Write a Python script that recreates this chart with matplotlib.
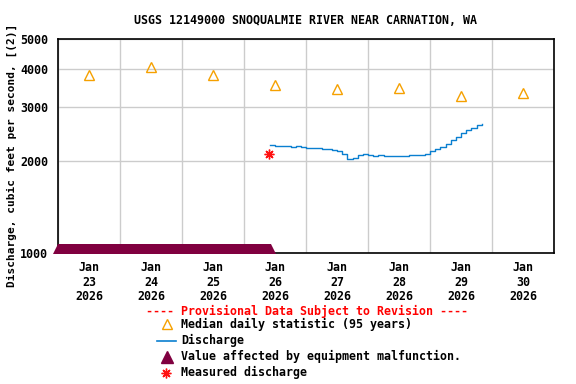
import datetime as dt
import matplotlib
matplotlib.use('Agg')
import matplotlib.pyplot as plt
import matplotlib.dates as mdates
import matplotlib.transforms as mtransforms
from matplotlib.lines import Line2D

plt.rcParams['font.family'] = 'DejaVu Sans Mono'
plt.rcParams['font.weight'] = 'bold'
plt.rcParams['font.size'] = 8.4

# %% data
title = 'USGS 12149000 SNOQUALMIE RIVER NEAR CARNATION, WA'
ylabel = 'Discharge, cubic feet per second, [(2)]'

median_days = [23, 24, 25, 26, 27, 28, 29, 30]
median_cfs = [3820, 4060, 3820, 3540, 3440, 3460, 3260, 3340]

# discharge, every 2 h starting Jan 26 10:00
q_start = dt.datetime(2026, 1, 26, 10, 0)
q_cfs = [2250, 2240, 2230, 2240, 2225, 2235, 2220, 2210, 2200, 2195,
         2190, 2180, 2170, 2150, 2110, 2020, 2040, 2090, 2100, 2085,
         2080, 2085, 2075, 2080, 2080, 2075, 2080, 2085, 2090, 2095,
         2100, 2150, 2180, 2220, 2270, 2340, 2400, 2470, 2520, 2570,
         2610, 2640]

malf_start = dt.datetime(2026, 1, 23, 0, 0)
malf_end = dt.datetime(2026, 1, 26, 10, 30)

meas_time = dt.datetime(2026, 1, 26, 9, 45)
meas_cfs = 2100

# %%
q_times = [q_start + dt.timedelta(hours=2 * i) for i in range(len(q_cfs))]
median_times = [dt.datetime(2026, 1, d, 12) for d in median_days]

fig = plt.figure(figsize=(5.76, 3.84), dpi=100)
W, H = 576, 384
ax = fig.add_axes([58 / W, 1 - 252.7 / H, 496 / W, 213.4 / H])

ax.set_yscale('log')
ax.set_ylim(1000, 5000)
ax.set_xlim(dt.datetime(2026, 1, 23), dt.datetime(2026, 1, 31))

ax.yaxis.set_major_locator(matplotlib.ticker.FixedLocator([1000, 2000, 3000, 4000, 5000]))
ax.yaxis.set_major_formatter(matplotlib.ticker.FormatStrFormatter('%d'))
ax.yaxis.set_minor_locator(matplotlib.ticker.NullLocator())
ax.xaxis.set_major_locator(mdates.DayLocator())
ax.xaxis.set_major_formatter(matplotlib.ticker.NullFormatter())
ax.xaxis.set_minor_locator(mdates.HourLocator(byhour=12))
ax.xaxis.set_minor_formatter(mdates.DateFormatter('%b\n%d\n%Y'))
ax.tick_params(which='both', length=0)
ax.tick_params(axis='y', pad=7)
ax.tick_params(axis='x', which='minor', pad=6)
for lab in ax.xaxis.get_minorticklabels():
    lab.set_linespacing(1.15)

ax.grid(True, which='major', color='#cccccc', lw=1)
ax.set_axisbelow(True)
for s in ax.spines.values():
    s.set_linewidth(1.2)

ax.plot(median_times, median_cfs, ls='none', marker='^', ms=7.5,
        mfc='none', mec='#f5a000', mew=1)
ax.plot(q_times, q_cfs, color='#0a7fd0', lw=1, drawstyle='steps-post')
ax.plot([meas_time], [meas_cfs], ls='none', marker=(8, 2, 0), ms=7,
        mec='#ff1010', mew=1)

off = mtransforms.offset_copy(ax.transData, fig=fig, y=3.7, units='dots')
ax.plot([malf_start, malf_end], [1000, 1000], color='#800040', lw=7.2,
        solid_capstyle='butt', marker='^', ms=7.2, mew=0,
        transform=off, clip_on=False, zorder=4)

fig.text(306 / W, 1 - 20 / H, title, ha='center', va='center')
fig.text(12 / W, 1 - 155 / H, ylabel, ha='center', va='center', rotation=90,
         fontsize=8.0)

# %% legend
def fy(y):
    return 1 - y / H

fig.text(307 / W, fy(311), '---- Provisional Data Subject to Revision ----',
         color='#ff0000', ha='center', va='center')
rows = [324, 340.5, 356.5, 372.5]
labels = ['Median daily statistic (95 years)', 'Discharge',
          'Value affected by equipment malfunction.', 'Measured discharge']
for y, lab in zip(rows, labels):
    fig.text(181 / W, fy(y), lab, ha='left', va='center')
tf = fig.transFigure
fig.add_artist(Line2D([167 / W], [fy(324)], marker='^', ms=7.5, mfc='none',
                      mec='#f5a000', mew=1, transform=tf))
fig.add_artist(Line2D([157 / W, 176 / W], [fy(340.5)] * 2, color='#0a7fd0',
                      lw=1.2, transform=tf))
fig.add_artist(Line2D([167 / W], [fy(356.5)], marker='^', ms=8, mfc='#800040',
                      mec='#800040', transform=tf))
fig.add_artist(Line2D([166 / W], [fy(372.5)], marker=(8, 2, 0), ms=7,
                      mec='#ff1010', mew=1, transform=tf))

fig.savefig('out.png', dpi=100)
